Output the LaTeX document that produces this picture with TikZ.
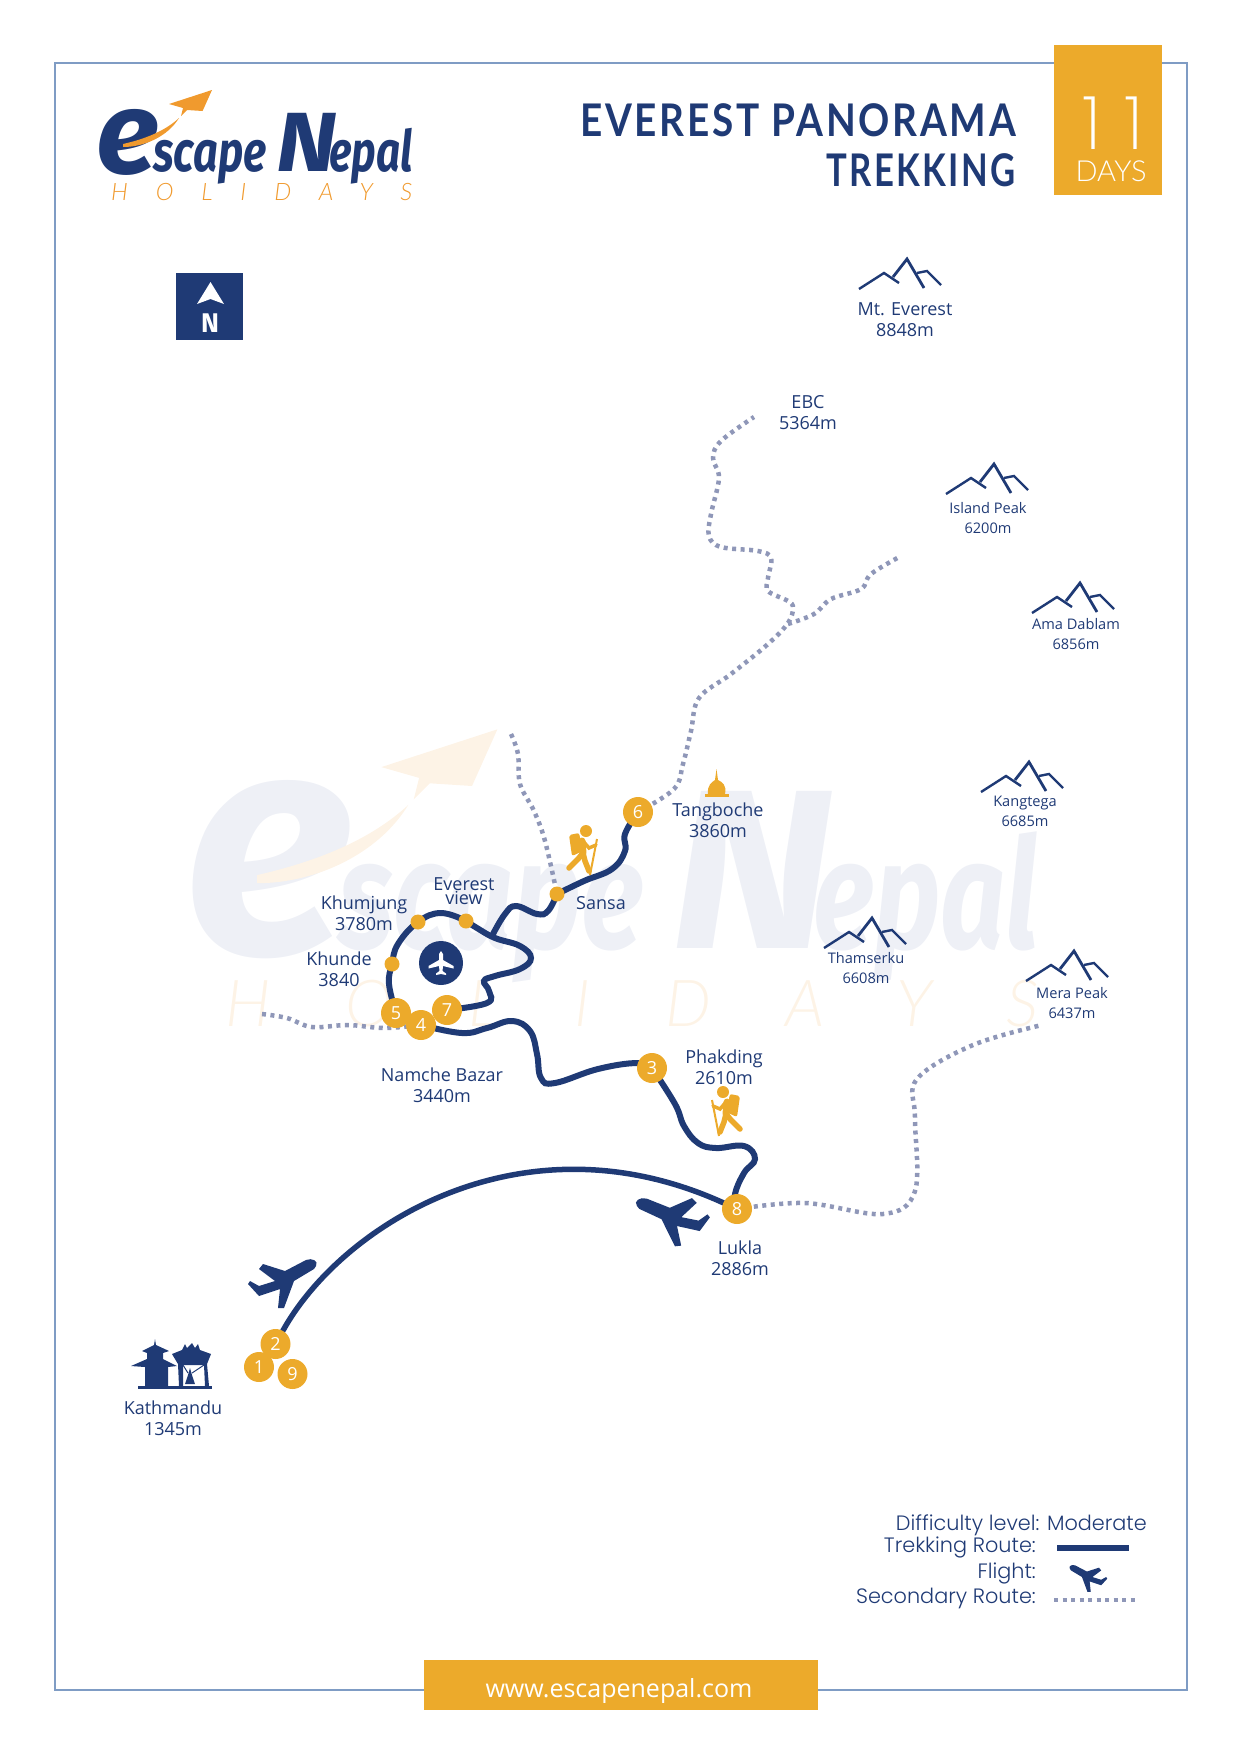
\documentclass[tikz,border=0pt]{standalone}
\usepackage{fontspec}
\usepackage{graphicx}
\setmainfont{Open Sans}
\newfontfamily\logofont{Fira Sans}
\newfontfamily\titlefont[LetterSpace=7]{Lato}
\newfontfamily\thinfont{Lato Light}
\newfontfamily\holifont[LetterSpace=116]{Lato Light}
\newfontfamily\legendfont{Poppins Light}
\newfontfamily\numfont[LetterSpace=32]{Poppins ExtraLight}
\usetikzlibrary{positioning,backgrounds}
\pgfdeclarelayer{wmark}
\pgfsetlayers{wmark,background,main}
\definecolor{navy}{HTML}{1F3A75}
\definecolor{gold}{HTML}{ECAA2B}
\definecolor{framecol}{HTML}{7F9CC4}
\definecolor{dotcol}{HTML}{8F97B8}
\definecolor{logoorange}{HTML}{F09A2E}
\definecolor{palenavy}{HTML}{EEF0F6}
\definecolor{paleorange}{HTML}{FDF3E6}
\colorlet{logoblue}{navy}
\colorlet{logoaccent}{logoorange}
\tikzset{
  trek/.style={draw=navy,line width=6pt,line cap=round},
  flightline/.style={draw=navy,line width=5.5pt,line cap=round},
  second/.style={draw=dotcol,line width=4.5pt,dash pattern=on 4pt off 4.5pt},
  stopnum/.style={circle,fill=gold,text=white,minimum size=30pt,inner sep=0pt,font=\fontsize{18}{18}\selectfont},
  stopdot/.style={circle,fill=gold,minimum size=15pt,inner sep=0pt},
  place/.style={text=navy,align=center,inner sep=0pt,font=\fontsize{18}{21}\selectfont},
  peak/.style={text=navy,align=center,inner sep=0pt,font=\fontsize{14.6}{20}\selectfont},
  legendtext/.style={text=navy,anchor=east,inner sep=0pt,font=\legendfont\fontsize{20.8}{20.8}\selectfont},
  mountain/.pic={
    \draw[navy,line width=2.4pt,miter limit=8] (-48,30) -- (-23,14) -- (-8,24);
    \draw[navy,line width=2.8pt,miter limit=8] (-14,18) -- (0,0) -- (17,29);
    \draw[navy,line width=2.4pt,miter limit=8] (10,14) -- (20,12) -- (34,26);
  },
  plane/.pic={
    \fill (2,-10) -- (23,-21) .. controls (29,-23.5) and (36,-20) .. (33,-15)
      -- (31,-12) -- (11,0) -- (1,27) -- (-5,27) -- (-3,8) -- (-24,15) -- (-35,3)
      -- (-33,0) -- (-24,5) -- (-8,0) -- (-24,-12) -- (-20,-17) -- cycle;
  },
  hiker/.pic={
    \fill (0,0) circle (6);
    \fill[rounded corners=2pt] (-17,4) -- (-7,2) -- (-3,20) -- (-14,25) -- cycle;
    \draw[line width=7pt,line cap=round] (-4,10) -- (-3,22);
    \draw[line width=5.5pt,line cap=round] (-3,22) -- (-8,28) -- (-17,37);
    \draw[line width=5.5pt,line cap=round] (-3,22) -- (-1,30) -- (3,40);
    \draw[line width=3.5pt,line cap=round] (-3,10) -- (3,17) -- (10,14);
    \draw[line width=2pt] (11,8) -- (4,44);
  },
  logo/.pic={
    \node[logoblue,anchor=base west,inner sep=0pt,transform shape,font=\logofont\bfseries\itshape\fontsize{117}{117}\selectfont] (#1e) at (-4,62) {e};
    \node[logoblue,anchor=base west,inner sep=0pt,transform shape,font=\logofont\bfseries\itshape\fontsize{57}{57}\selectfont] (#1s) at (53,60) {\scalebox{0.76}[1]{scape}};
    \node[logoblue,anchor=base west,inner sep=0pt,transform shape,font=\logofont\bfseries\itshape\fontsize{84}{84}\selectfont] (#1n) at (176,60) {\scalebox{1.1}[1]{N}};
    \node[logoblue,anchor=base west,inner sep=0pt,transform shape,font=\logofont\bfseries\itshape\fontsize{57}{57}\selectfont] (#1p) at (229,60) {\scalebox{0.74}[1]{epal}};
    \node[logoaccent,anchor=base west,inner sep=0pt,transform shape,font=\holifont\itshape\fontsize{24}{24}\selectfont] (#1h) at (11,89) {HOLIDAYS};
    \fill[logoaccent] (112,-21) -- (69,-7) -- (83,-3) -- (81,5) -- (87,-1) -- (102.6,0) -- cycle;
    \fill[logoaccent] (23,36) .. controls (45,36) and (68,25) .. (79,7) .. controls (65,20) and (45,28) .. (23,33) -- cycle;
  },
}

\begin{document}
\begin{tikzpicture}[x=1pt,y=-1pt]
\useasboundingbox (-1,-1) rectangle (1239,1753);

% Watermark
\begin{pgfonlayer}{wmark}
\colorlet{logoblue}{palenavy}
\colorlet{logoaccent}{paleorange}
\pic[scale=2.7,transform shape] at (194,785) {logo=w};
\end{pgfonlayer}
\colorlet{logoblue}{navy}
\colorlet{logoaccent}{logoorange}

% Frame
\draw[framecol,line width=1.5pt] (54,62) rectangle (1186,1689);

% Header
\pic at (99,110) {logo=t};
\node[anchor=east,align=right,text=navy,inner sep=0pt,font=\titlefont\bfseries\fontsize{45}{50}\selectfont] (title) at (1015,144) {\scalebox{0.86}[1]{EVEREST PANORAMA}\\\scalebox{0.77}[1]{TREKKING}};
\node[fill=gold,minimum width=107.5pt,minimum height=150pt,inner sep=0pt] (daybox) at (1107,119) {};
\node[text=white,inner sep=0pt,font=\numfont\fontsize{74}{74}\selectfont] (daynum) at (1112,122) {11};
\node[text=white,inner sep=0pt,font=\thinfont\fontsize{29}{29}\selectfont] (daytext) at (1110,170) {DAYS};

% North box
\fill[navy] (175,272) rectangle (242,339);
\fill[white] (209.5,281) -- (196,303) -- (209.5,298) -- (223,303) -- cycle;
\node[text=white,inner sep=0pt,font=\logofont\bfseries\fontsize{27}{27}\selectfont] (north) at (209,322) {N};

% Mountains
\pic at (906,258) {mountain};
\pic at (993,463) {mountain};
\pic at (1079,582) {mountain};
\pic at (1028,761) {mountain};
\pic at (871,917) {mountain};
\pic at (1073,950) {mountain};
\node[place] (everest) at (904,319) {Mt. Everest\\8848m};
\node[place] (ebc) at (807,412) {EBC\\5364m};
\node[peak] (island) at (987,517) {Island Peak\\6200m};
\node[peak] (ama) at (1075,633) {Ama Dablam\\6856m};
\node[peak] (kangtega) at (1024,810) {Kangtega\\6685m};
\node[peak] (thamserku) at (865,967) {Thamserku\\6608m};
\node[peak] (mera) at (1071,1002) {Mera Peak\\6437m};

% Places
\node[place] (tangboche) at (717,819) {Tangboche\\3860m};
\node[place] (sansa) at (600,902) {Sansa};
\node[place] (view) at (463,890) {Everest\\[-7pt]view};
\node[place] (khumjung) at (363,912) {Khumjung\\3780m};
\node[place] (khunde) at (338,968) {Khunde\\3840};
\node[place] (namche) at (441,1084) {Namche Bazar\\3440m};
\node[place] (phakding) at (723,1066) {Phakding\\2610m};
\node[place] (lukla) at (739,1257) {Lukla\\2886m};
\node[place] (kathmandu) at (172,1417) {Kathmandu\\1345m};

% Stops
\node[stopnum] (n6) at (637,811) {6};
\node[stopnum] (n5) at (395,1012) {5};
\node[stopnum] (n7) at (446,1009) {7};
\node[stopnum] (n4) at (420,1024) {4};
\node[stopnum] (n3) at (651,1067) {3};
\node[stopnum] (n8) at (736,1208) {8};
\node[stopnum] (n2) at (274.5,1343) {2};
\node[stopnum] (n1) at (258,1366) {1};
\node[stopnum] (n9) at (291.5,1373) {9};
\node[stopdot] (dsansa) at (556,893) {};
\node[stopdot] (dview) at (465,920) {};
\node[stopdot] (dkhumjung) at (417,921) {};
\node[stopdot] (dkhunde) at (391,963) {};

% Routes
\begin{scope}[on background layer]
\draw[flightline] (n2) .. controls (340,1225) and (520,1110) .. (n8);
\draw[trek] plot[smooth,tension=.7] coordinates {(n8) (734,1193) (743,1172) (754,1158) (743,1145) (715,1147) (697,1142) (683,1125) (674,1103) (n3)};
\draw[trek] plot[smooth,tension=.7] coordinates {(n3) (636,1062) (597,1068) (554,1082) (540,1077) (536,1053) (529,1030) (511,1020) (486,1027) (461,1032) (n4)};
\draw[trek] plot[smooth,tension=.7] coordinates {(n7) (486,1002) (488,990) (483,980) (494,975) (519,968) (530,957) (519,945) (494,937) (476,927) (dview)};
\draw[trek] plot[smooth,tension=.7] coordinates {(dview) (440,912) (dkhumjung) (397,943) (dkhunde) (388,983) (n5)};
\draw[trek] plot[smooth,tension=.7] coordinates {(492,933) (504,913) (515,905) (536,913) (547,910) (dsansa)};
\draw[trek] plot[smooth,tension=.7] coordinates {(dsansa) (583,880) (611,868) (624,850) (624,833) (n6)};
\draw[second] plot[smooth,tension=.6] coordinates {(261,1013) (286,1017) (311,1026) (347,1024) (383,1027) (n4)};
\draw[second] plot[smooth,tension=.6] coordinates {(510,733) (517,753) (519,783) (533,810) (544,840) (dsansa)};
\draw[second] plot[smooth,tension=.6] coordinates {(n6) (673,788) (682,763) (690,730) (698,697) (730,673) (767,643) (787,622) (792,607) (787,600) (767,590) (767,577) (770,557) (757,550) (720,546) (708,535) (710,513) (718,477) (712,457) (720,440) (753,416)};
\draw[second] plot[smooth,tension=.6] coordinates {(787,623) (813,613) (830,598) (860,588) (870,573) (900,555)};
\draw[second] plot[smooth,tension=.6] coordinates {(n8) (804,1202) (882,1213) (914,1190) (914,1117) (916,1078) (972,1044) (1041,1024)};
\end{scope}

% Icons
\pic[navy] at (282,1280) {plane};
\pic[navy,xscale=-1,rotate=-6,scale=1.05] at (672,1217) {plane};
\fill[navy] (440,962) circle (22);
\fill[white] (0+440,-12+962) -- (2+440,-9+962) -- (2+440,-3+962) -- (12.5+440,3+962) -- (12.5+440,5.5+962) -- (2+440,3+962) -- (1.5+440,8+962) -- (5+440,10.5+962) -- (5+440,12+962) -- (440,11+962) -- (-5+440,12+962) -- (-5+440,10.5+962) -- (-1.5+440,8+962) -- (-2+440,3+962) -- (-12.5+440,5.5+962) -- (-12.5+440,3+962) -- (-2+440,-3+962) -- (-2+440,-9+962) -- cycle;
\pic[gold] at (585,830) {hiker};
\pic[gold,xscale=-1] at (722,1091) {hiker};

% Stupa
\fill[gold] (704,793) rectangle (727.5,796);
\fill[gold] (707,793) .. controls (706,784) and (711,781) .. (714,779) -- (715.5,768) -- (717,779) .. controls (721,781) and (726,784) .. (724,793) -- cycle;

% Kathmandu temple
\fill[navy] (137,1385) rectangle (211,1388);
\fill[navy] (154,1338) -- (155,1344) -- (168,1350) -- (162,1352) -- (162,1358) -- (176,1365) -- (167,1366) -- (167,1385) -- (144,1385) -- (144,1366) -- (130,1365) -- (146,1358) -- (146,1352) -- (141,1350) -- (153,1344) -- cycle;
\fill[navy] (171,1353) -- (181,1349) -- (184,1343) -- (186,1347) -- (191,1342) -- (194,1347) -- (197,1343) -- (199,1349) -- (210,1353) -- (206,1363) -- (208,1385) -- (204,1385) -- (203,1364) -- (182,1364) -- (182,1385) -- (178,1385) -- (177,1363) -- cycle;
\fill[navy] (189,1367) -- (191,1374) -- (194,1383) -- (184,1383) -- (187,1374) -- cycle;
\draw[navy,line width=1pt] (182,1364) -- (187,1372) (203,1364) -- (191,1372);

% Legend
\node[legendtext] (diff) at (1146,1524) {Difficulty level: Moderate};
\node[legendtext] (ltrek) at (1035,1546) {Trekking Route:};
\node[legendtext] (lflight) at (1035,1572) {Flight:};
\node[legendtext] (lsecond) at (1035,1597) {Secondary Route:};
\coordinate (ta) at (1056,1547);
\coordinate (tb) at (1128,1547);
\draw[navy,line width=6.5pt] (ta) -- (tb);
\pic[navy,xscale=-1,scale=.55] at (1087,1576) {plane};
\coordinate (sa) at (1053,1599);
\coordinate (sb) at (1134,1599);
\draw[second] (sa) -- (sb);

% Footer
\node[fill=gold,minimum width=394pt,minimum height=50pt,inner sep=0pt] (web) at (620,1684) {};
\node[text=white,inner sep=0pt,font=\fontsize{25}{25}\selectfont] (url) at (618,1690) {www.escapenepal.com};

\end{tikzpicture}
\end{document}
